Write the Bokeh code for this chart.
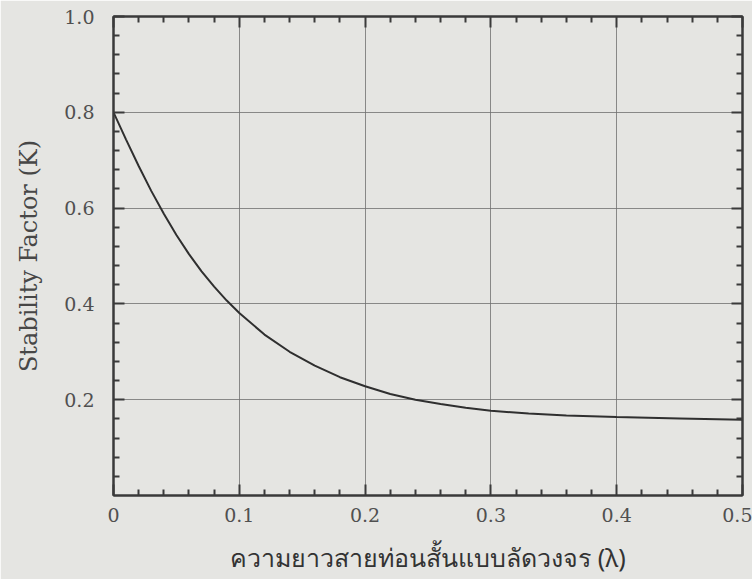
from bokeh.plotting import figure
from bokeh.models import LinearAxis, FixedTicker, Range1d, CustomJSTickFormatter
from bokeh.embed import file_html
from bokeh.resources import INLINE

# Data
lam = [0.0, 0.01, 0.02, 0.03, 0.04, 0.05, 0.06, 0.07, 0.08, 0.09, 0.10,
       0.12, 0.14, 0.16, 0.18, 0.20, 0.22, 0.24, 0.26, 0.28, 0.30,
       0.33, 0.36, 0.40, 0.45, 0.50]
K = [0.800, 0.743, 0.688, 0.636, 0.588, 0.544, 0.504, 0.468, 0.436, 0.407, 0.381,
     0.336, 0.300, 0.271, 0.247, 0.228, 0.212, 0.200, 0.191, 0.183, 0.177,
     0.171, 0.167, 0.164, 0.161, 0.158]

x_ticks = [0.0, 0.1, 0.2, 0.3, 0.4, 0.5]
x_tick_labels = ["0", "0.1", "0.2", "0.3", "0.4", "0.5"]
x_minor = [0.02, 0.04, 0.06, 0.08, 0.12, 0.14, 0.16, 0.18, 0.22, 0.24, 0.26, 0.28,
           0.32, 0.34, 0.36, 0.38, 0.42, 0.44, 0.46, 0.48]
y_ticks = [0.2, 0.4, 0.6, 0.8, 1.0]
y_tick_labels = ["0.2", "0.4", "0.6", "0.8", "1.0"]
y_minor = [0.04, 0.08, 0.12, 0.16, 0.24, 0.28, 0.32, 0.36, 0.44, 0.48, 0.52, 0.56,
           0.64, 0.68, 0.72, 0.76, 0.84, 0.88, 0.92, 0.96]

x_title = "ความยาวสายท่อนสั้นแบบลัดวงจร (λ)"
y_title = "Stability Factor (K)"

BG = "#e5e5e2"
INK = "#3a3a3a"

p = figure(frame_width=629, frame_height=479,
           x_range=Range1d(0, 0.5), y_range=Range1d(0, 1.0),
           output_backend="svg", toolbar_location=None,
           min_border_left=113, min_border_right=10, min_border_top=16, min_border_bottom=84,
           background_fill_color=BG, border_fill_color=BG)

p.outline_line_color = INK
p.outline_line_width = 2

xt = FixedTicker(ticks=x_ticks, minor_ticks=x_minor)
yt = FixedTicker(ticks=y_ticks, minor_ticks=y_minor)

p.xaxis.ticker = xt
p.yaxis.ticker = yt
p.xaxis.major_label_overrides = {v: s for v, s in zip(x_ticks, x_tick_labels)}
p.yaxis.major_label_overrides = {v: s for v, s in zip(y_ticks, y_tick_labels)}


def style_ticks(ax):
    ax.axis_line_color = INK
    ax.axis_line_width = 2
    ax.major_tick_in = 11
    ax.major_tick_out = 0
    ax.minor_tick_in = 6
    ax.minor_tick_out = 0
    ax.major_tick_line_color = INK
    ax.major_tick_line_width = 2
    ax.minor_tick_line_color = INK
    ax.minor_tick_line_width = 2


for ax in (p.xaxis[0], p.yaxis[0]):
    style_ticks(ax)
    ax.major_label_text_font = "DejaVu Serif"
    ax.major_label_text_font_size = "19px"
    ax.major_label_text_color = "#505050"

p.xaxis.major_label_standoff = 12
p.yaxis.major_label_standoff = 19

p.xaxis.axis_label = x_title
p.xaxis.axis_label_text_font = "Noto Sans"
p.xaxis.axis_label_text_font_style = "normal"
p.xaxis.axis_label_text_font_size = "25px"
p.xaxis.axis_label_text_color = "#333333"
p.xaxis.axis_label_standoff = 15

p.yaxis.axis_label = y_title
p.yaxis.axis_label_text_font = "DejaVu Serif"
p.yaxis.axis_label_text_font_style = "normal"
p.yaxis.axis_label_text_font_size = "24px"
p.yaxis.axis_label_text_color = "#474747"
p.yaxis.axis_label_standoff = 18

# Mirror axes (ticks only, no labels) on top and right
blank = CustomJSTickFormatter(code="return ''")
for loc, tk in (("above", xt), ("right", yt)):
    ax = LinearAxis(ticker=tk, formatter=blank)
    style_ticks(ax)
    ax.major_label_standoff = 0
    p.add_layout(ax, loc)

p.xgrid.ticker = xt
p.ygrid.ticker = yt
p.grid.grid_line_color = "#707070"
p.grid.grid_line_width = 1
p.grid.grid_line_alpha = 0.8

p.line(lam, K, line_color="#2f2f2f", line_width=2)

open("out.html", "w").write(file_html(p, INLINE))
